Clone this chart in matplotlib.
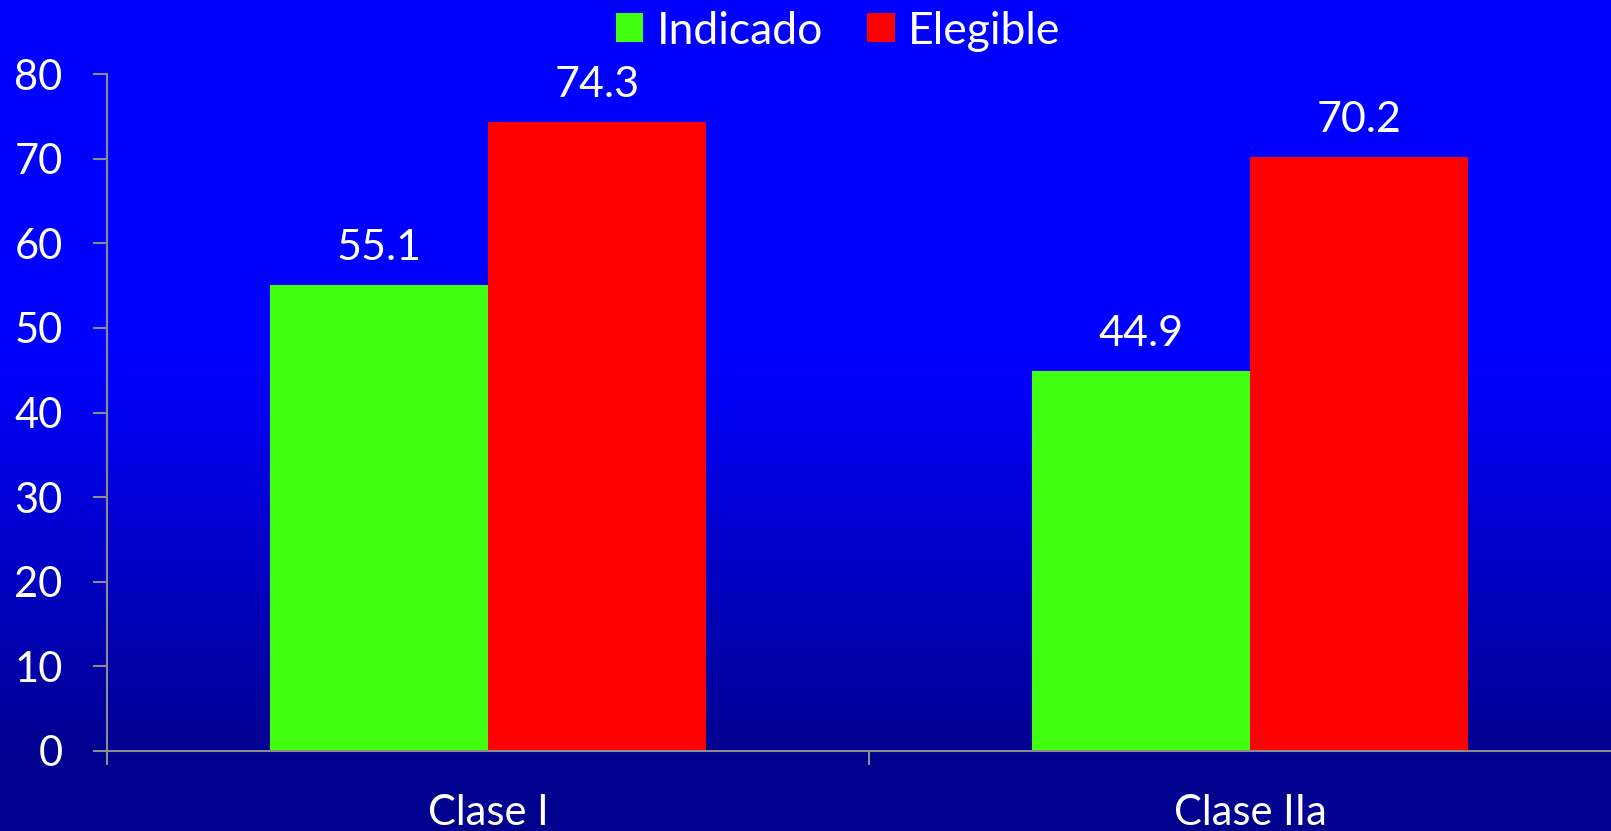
import numpy as np
import matplotlib
matplotlib.use("Agg")
import matplotlib.pyplot as plt
from matplotlib.patches import Patch

plt.rcParams['font.family'] = ['Lato', 'DejaVu Sans']

categories = ["Clase I", "Clase IIa"]
series_names = ["Indicado", "Elegible"]
indicado = [55.1, 44.9]
elegible = [74.3, 70.2]
y_ticks = [0, 10, 20, 30, 40, 50, 60, 70, 80]

green = "#40FF10"
red = "#FF0000"
axis_gray = "#8C8C8C"

W, H = 1611, 831
fig = plt.figure(figsize=(W / 100, H / 100), dpi=100)

# vertical blue gradient behind everything
bg = fig.add_axes([0, 0, 1, 1], zorder=0)
rows = np.arange(H)
t = np.clip((rows - 360) / (760 - 360), 0, 1)
blue = (255 - t * (255 - 142)) / 255.0
grad = np.zeros((H, 1, 3))
grad[:, 0, 2] = blue
bg.imshow(grad, aspect="auto", extent=[0, 1, 0, 1], origin="upper")
bg.set_axis_off()

ax = fig.add_axes([107 / W, 1 - 751 / H, 1524 / W, (751 - 74) / H], zorder=1)
ax.patch.set_alpha(0)

x = np.arange(len(categories))
bw = 0.286
b1 = ax.bar(x - bw / 2, indicado, bw, color=green, label=series_names[0], zorder=2)
b2 = ax.bar(x + bw / 2, elegible, bw, color=red, label=series_names[1], zorder=2)

for bars, vals in ((b1, indicado), (b2, elegible)):
    for rect, v in zip(bars, vals):
        ax.annotate(f"{v:.1f}", (rect.get_x() + rect.get_width() / 2, v),
                    xytext=(0, 18), textcoords="offset points",
                    ha="center", va="baseline", color="white", fontsize=31)

ax.set_ylim(0, 80)
ax.set_xlim(-0.5, len(categories) - 0.5)
ax.set_yticks(y_ticks)
ax.set_yticklabels([str(v) for v in y_ticks])
ax.tick_params(axis="y", colors=axis_gray, labelcolor="white", labelsize=30,
               length=10, width=1.5, pad=22)

# category boundaries get tick marks, category names sit centred without marks
ax.set_xticks(np.arange(len(categories) + 1) - 0.5)
ax.set_xticklabels([])
ax.tick_params(axis="x", which="major", colors=axis_gray, length=10, width=1.5)
ax.set_xticks(x, minor=True)
ax.set_xticklabels(categories, minor=True)
ax.tick_params(axis="x", which="minor", length=0, labelcolor="white",
               labelsize=30, pad=31)

for side in ("top", "right"):
    ax.spines[side].set_visible(False)
for side in ("left", "bottom"):
    ax.spines[side].set_color(axis_gray)
    ax.spines[side].set_linewidth(1.5)

handles = [Patch(facecolor=green, label=series_names[0]),
           Patch(facecolor=red, label=series_names[1])]
fig.legend(handles=handles, loc="center", bbox_to_anchor=(838 / W, 1 - 31 / H),
           ncol=2, frameon=False, fontsize=32, labelcolor="white",
           handlelength=0.62, handleheight=0.62, handletextpad=0.3,
           columnspacing=1.0, borderaxespad=0, borderpad=0)

fig.savefig("out.png", dpi=100)
